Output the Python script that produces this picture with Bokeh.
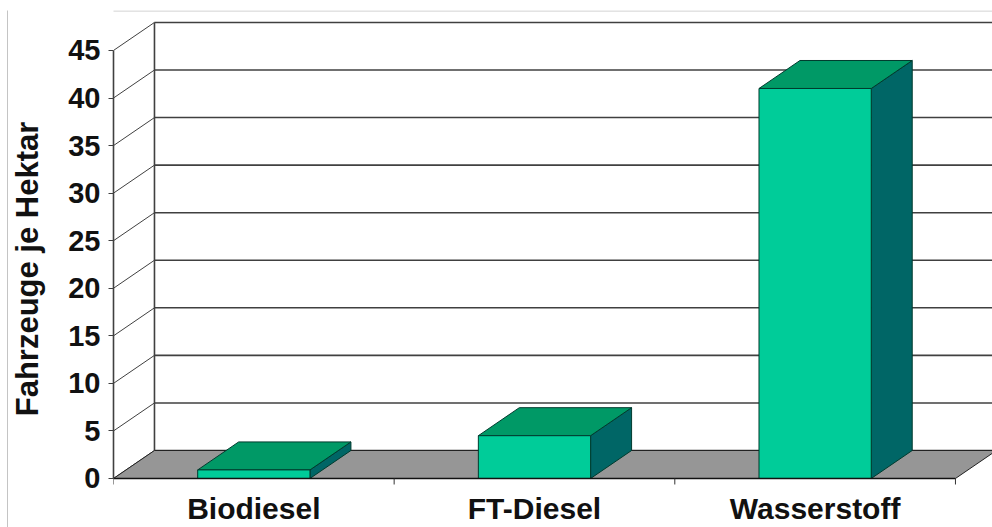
from bokeh.plotting import figure
from bokeh.models import LinearAxis, FixedTicker, Range1d
from bokeh.core.properties import value
from bokeh.embed import file_html
from bokeh.resources import INLINE

# ---- data ----
categories = ["Biodiesel", "FT-Diesel", "Wasserstoff"]
values = [0.9, 4.5, 41]
y_ticks = [0, 5, 10, 15, 20, 25, 30, 35, 40, 45]
y_label = "Fahrzeuge je Hektar"

# ---- 3D geometry (in data units) ----
DX = 0.146     # depth offset along x
DY = 2.944     # depth offset along y
HW = 0.2       # bar half width
TICK = 0.63    # category tick length below the floor
LABEL_Y = -3.2
FONT = "Liberation Sans"

FRONT = "#00CC99"
TOP = "#009966"
SIDE = "#006666"
EDGE = "#003b2e"
GRID = "#404040"
FLOOR = "#969696"
BORDER = "#c4c4c4"
TXT = "#111111"

p = figure(width=992, height=527, x_range=Range1d(0, 3.132), y_range=Range1d(-5.152, 49.2),
           output_backend="svg", toolbar_location=None,
           x_axis_type=None, y_axis_type=None,
           min_border_left=113, min_border_right=0, min_border_top=10, min_border_bottom=0)
p.grid.visible = False
p.outline_line_color = None
p.background_fill_color = "white"
p.border_fill_color = "white"

n = len(categories)
ymax = y_ticks[-1]

# top border of the chart area
p.segment(x0=[-1], y0=[49.15], x1=[4], y1=[49.15], line_color=BORDER, line_width=1)

# back wall gridlines and diagonals
p.segment(x0=[DX] * len(y_ticks), y0=[t + DY for t in y_ticks],
          x1=[3.3] * len(y_ticks), y1=[t + DY for t in y_ticks],
          line_color=GRID, line_width=1.6)
p.segment(x0=[0] * len(y_ticks), y0=y_ticks,
          x1=[DX] * len(y_ticks), y1=[t + DY for t in y_ticks],
          line_color=GRID, line_width=1)
p.segment(x0=[DX], y0=[DY], x1=[DX], y1=[ymax + DY], line_color=GRID, line_width=1.6)

# floor
p.patch(x=[0, n, n + DX, DX], y=[0, 0, DY, DY], fill_color=FLOOR,
        line_color="#222222", line_width=1)

# bars
xs_front, ys_front, xs_top, ys_top, xs_side, ys_side = [], [], [], [], [], []
for i, v in enumerate(values):
    c = i + 0.5
    l, r = c - HW, c + HW
    xs_side.append([r, r + DX, r + DX, r]); ys_side.append([0, DY, v + DY, v])
    xs_top.append([l, r, r + DX, l + DX]); ys_top.append([v, v, v + DY, v + DY])
    xs_front.append([l, r, r, l]); ys_front.append([0, 0, v, v])
p.patches(xs_side, ys_side, fill_color=SIDE, line_color=EDGE, line_width=1)
p.patches(xs_top, ys_top, fill_color=TOP, line_color=EDGE, line_width=1)
p.patches(xs_front, ys_front, fill_color=FRONT, line_color=EDGE, line_width=1)

# category axis (front floor edge, boundary ticks, labels)
centers = [i + 0.5 for i in range(n)]
bounds = list(range(n + 1))
p.segment(x0=[0], y0=[0], x1=[n], y1=[0], line_color=TXT, line_width=1.6)
p.segment(x0=bounds, y0=[0] * len(bounds), x1=bounds, y1=[-TICK] * len(bounds),
          line_color="#333333", line_width=1)
p.text(x=centers, y=[LABEL_Y] * n, text=categories, text_font=value(FONT),
       text_font_style="bold", text_font_size="30px", text_color=TXT,
       text_align="center", text_baseline="middle")

# value axis
yax = LinearAxis(ticker=FixedTicker(ticks=y_ticks), bounds=(0, ymax),
                 axis_line_color=GRID, axis_line_width=1.6,
                 major_tick_line_color=GRID, major_tick_out=5, major_tick_in=0,
                 minor_tick_line_color=None,
                 major_label_text_font=FONT, major_label_text_font_style="bold",
                 major_label_text_font_size="29px", major_label_text_color=TXT,
                 major_label_standoff=8,
                 axis_label=y_label, axis_label_text_font=FONT,
                 axis_label_text_font_style="bold", axis_label_text_font_size="31px",
                 axis_label_text_color=TXT, axis_label_standoff=20)
p.add_layout(yax, "left")

# outer left axis used only as the chart-area left border line
border_ax = LinearAxis(ticker=FixedTicker(ticks=[]), axis_line_color=BORDER,
                       axis_line_width=1, major_tick_line_color=None,
                       minor_tick_line_color=None, major_label_text_font_size="0px",
                       major_tick_out=0, major_tick_in=0, major_label_standoff=0,
                       axis_label_standoff=0)
p.add_layout(border_ax, "left")

open("out.html", "w").write(file_html(p, INLINE))
